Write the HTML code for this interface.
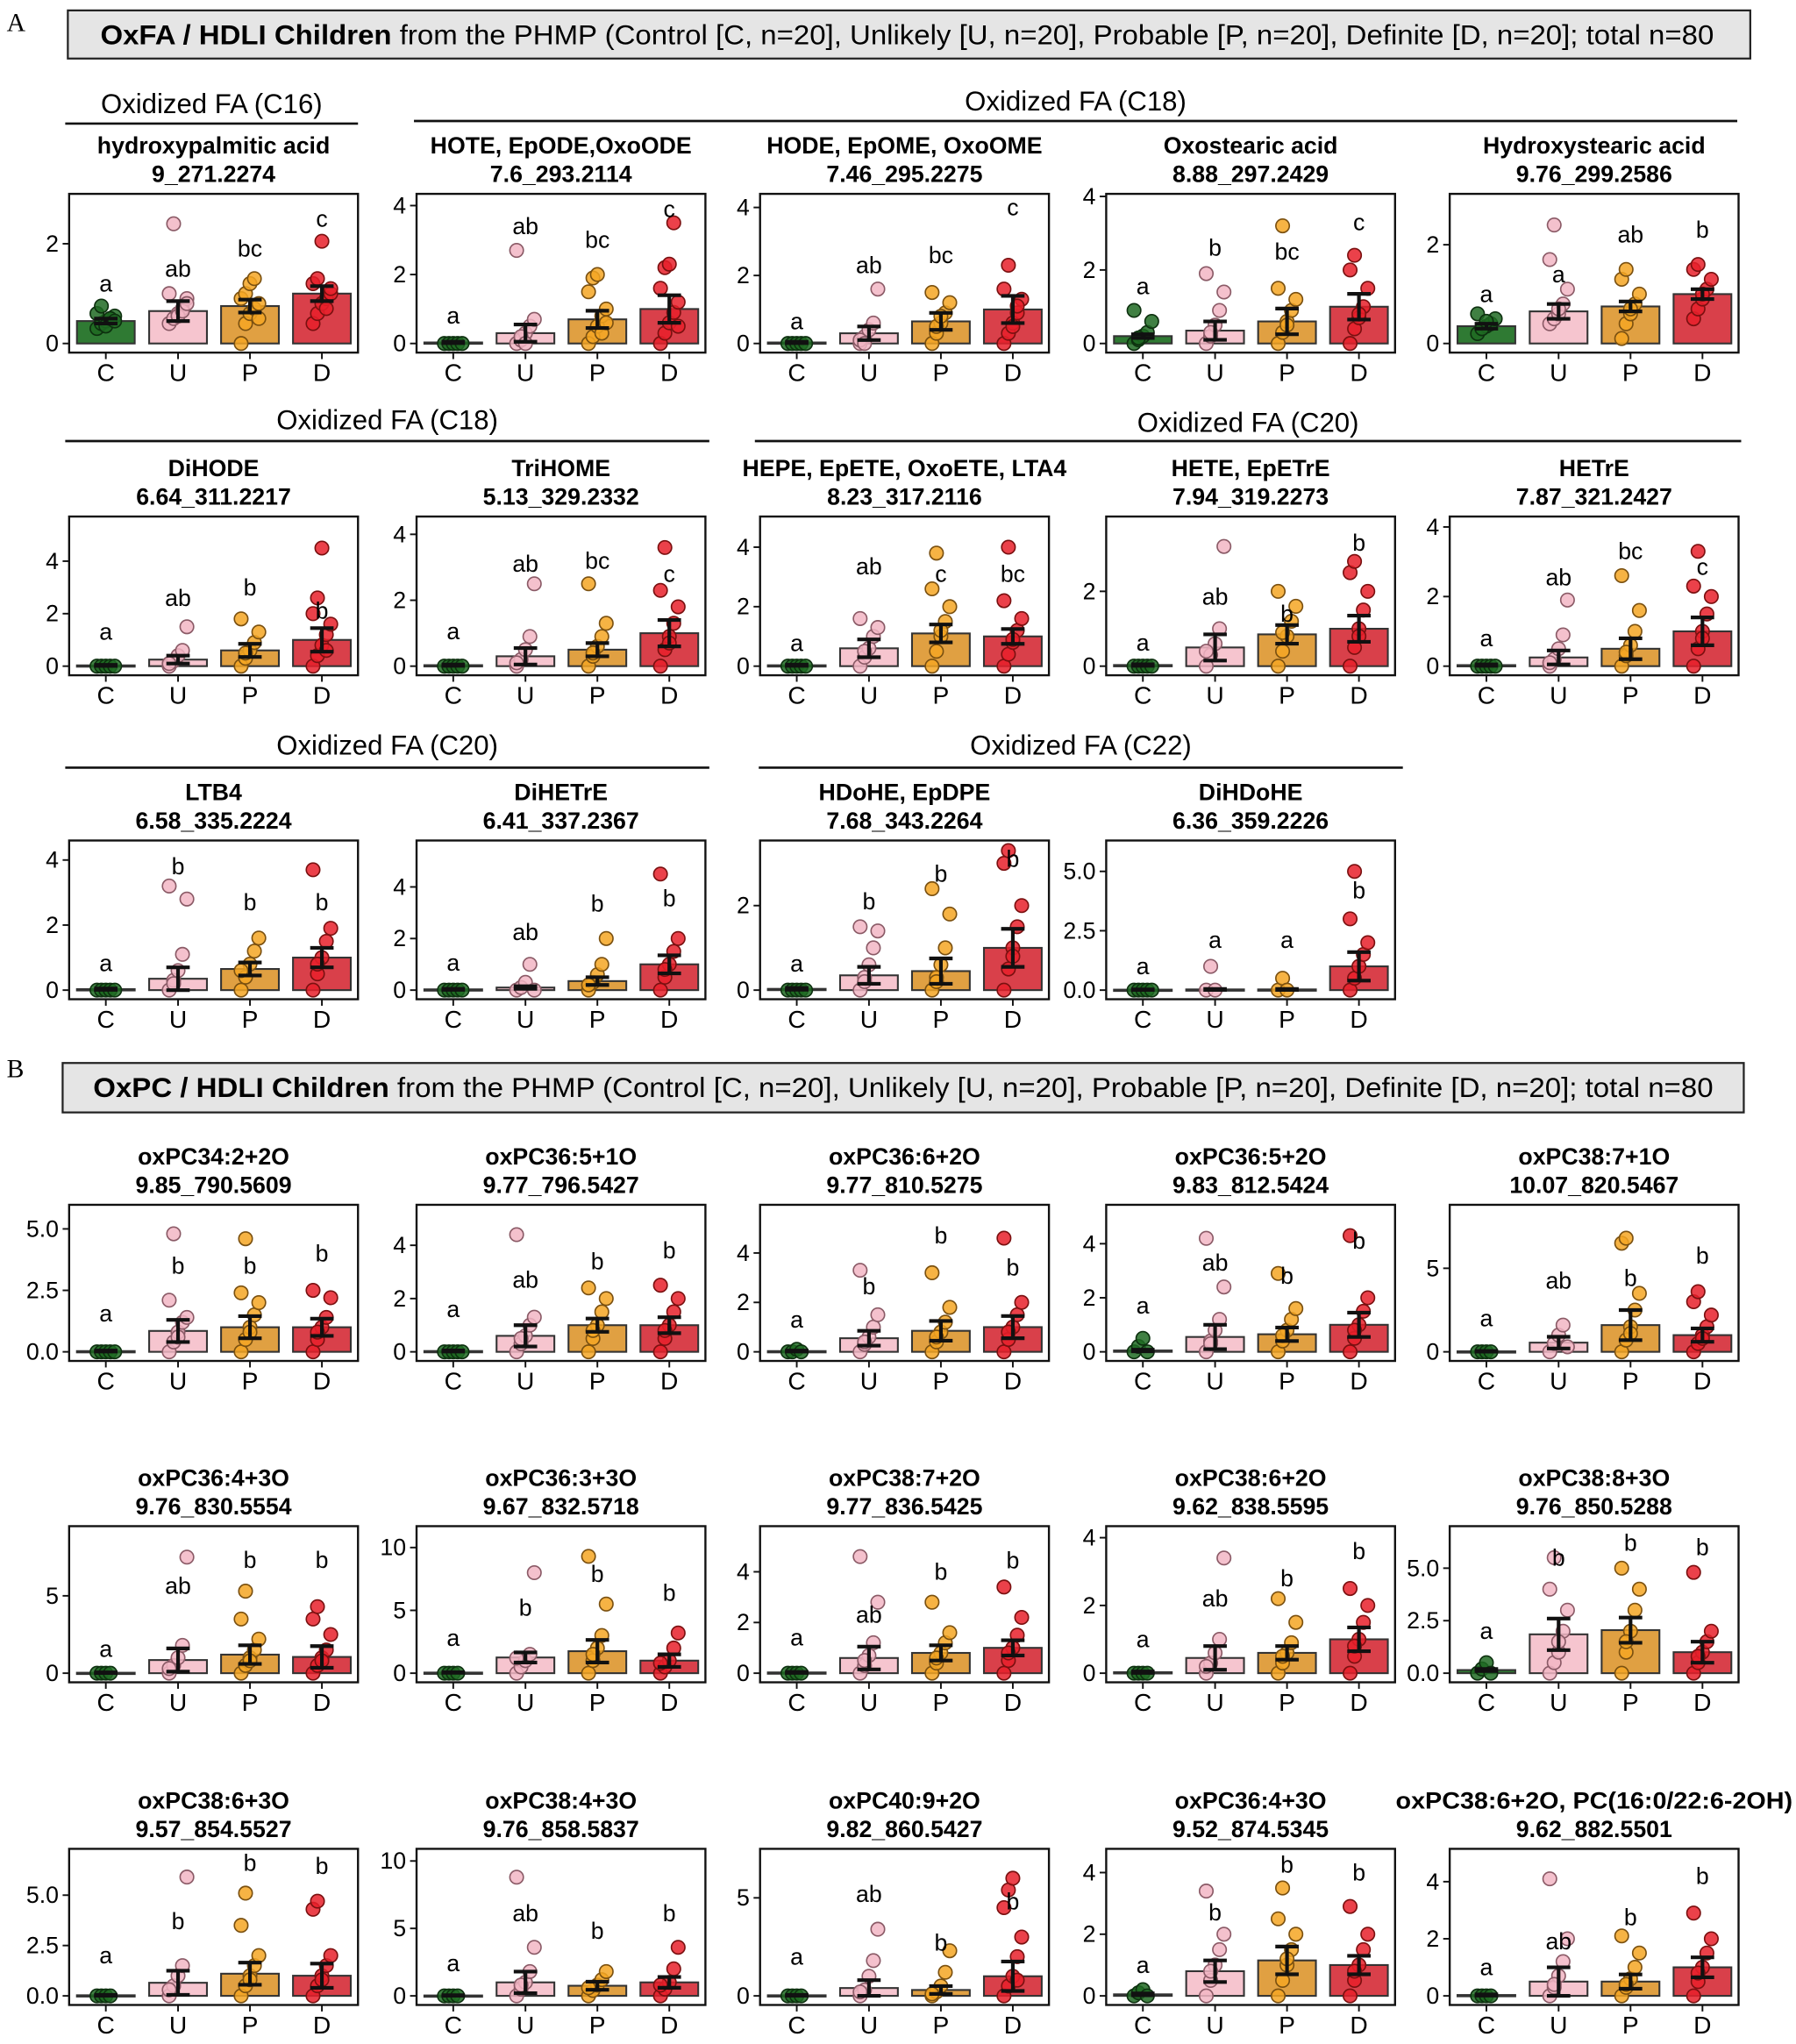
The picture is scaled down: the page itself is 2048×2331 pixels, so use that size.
<!DOCTYPE html>
<html><head><meta charset="utf-8">
<style>
html,body{margin:0;padding:0;background:#fff;}
svg{display:block;font-family:"Liberation Sans",Arial,sans-serif;}
</style></head>
<body>
<svg id="fig" xmlns="http://www.w3.org/2000/svg" width="2048" height="2331" viewBox="0 0 1380 1571">
<rect x="0" y="0" width="1380" height="1571" fill="#fff"/>
<text x="5" y="24" font-family="Liberation Serif" font-size="20">A</text>
<rect x="52" y="8" width="1293" height="37" fill="#e5e5e5" stroke="#222" stroke-width="1.5"/>
<text x="697" y="34" text-anchor="middle" font-size="21" textLength="1240" lengthAdjust="spacingAndGlyphs"><tspan font-weight="bold">OxFA / HDLI Children</tspan> from the PHMP (Control [C, n=20], Unlikely [U, n=20], Probable [P, n=20], Definite [D, n=20]; total n=80</text>
<text x="5" y="828" font-family="Liberation Serif" font-size="20">B</text>
<rect x="48" y="817" width="1292" height="38" fill="#e5e5e5" stroke="#222" stroke-width="1.5"/>
<text x="694" y="843" text-anchor="middle" font-size="21" textLength="1245" lengthAdjust="spacingAndGlyphs"><tspan font-weight="bold">OxPC / HDLI Children</tspan> from the PHMP (Control [C, n=20], Unlikely [U, n=20], Probable [P, n=20], Definite [D, n=20]; total n=80</text>
<g id="groups"></g>
<g id="plots"></g>
</svg>
<script>
// ---- data ----
const categories = ["C","U","P","D"];
const titles1 = ["hydroxypalmitic acid","HOTE, EpODE,OxoODE","HODE, EpOME, OxoOME","Oxostearic acid","Hydroxystearic acid",
"DiHODE","TriHOME","HEPE, EpETE, OxoETE, LTA4","HETE, EpETrE","HETrE",
"LTB4","DiHETrE","HDoHE, EpDPE","DiHDoHE",
"oxPC34:2+2O","oxPC36:5+1O","oxPC36:6+2O","oxPC36:5+2O","oxPC38:7+1O",
"oxPC36:4+3O","oxPC36:3+3O","oxPC38:7+2O","oxPC38:6+2O","oxPC38:8+3O",
"oxPC38:6+3O","oxPC38:4+3O","oxPC40:9+2O","oxPC36:4+3O","oxPC38:6+2O, PC(16:0/22:6-2OH)"];
const titles2 = ["9_271.2274","7.6_293.2114","7.46_295.2275","8.88_297.2429","9.76_299.2586",
"6.64_311.2217","5.13_329.2332","8.23_317.2116","7.94_319.2273","7.87_321.2427",
"6.58_335.2224","6.41_337.2367","7.68_343.2264","6.36_359.2226",
"9.85_790.5609","9.77_796.5427","9.77_810.5275","9.83_812.5424","10.07_820.5467",
"9.76_830.5554","9.67_832.5718","9.77_836.5425","9.62_838.5595","9.76_850.5288",
"9.57_854.5527","9.76_858.5837","9.82_860.5427","9.52_874.5345","9.62_882.5501"];
const tickLabels = [["0","2"],["0","2","4"],["0","2","4"],["0","2","4"],["0","2"],
["0","2","4"],["0","2","4"],["0","2","4"],["0","2"],["0","2","4"],
["0","2","4"],["0","2","4"],["0","2"],["0.0","2.5","5.0"],
["0.0","2.5","5.0"],["0","2","4"],["0","2","4"],["0","2","4"],["0","5"],
["0","5"],["0","5","10"],["0","2","4"],["0","2","4"],["0.0","2.5","5.0"],
["0.0","2.5","5.0"],["0","5","10"],["0","5"],["0","2","4"],["0","2","4"]];
const yMax = [3.0,4.34,4.4,4.07,3.03, 5.7,4.54,5.03,4.0,4.3, 4.6,5.8,3.54,6.3,
5.98,5.52,5.95,5.44,8.8, 9.5,11.7,5.8,4.34,7.0, 7.3,10.9,7.5,4.77,5.15];
const barMeans = [[.45,.65,.75,1],[.03,.3,.7,1],[.03,.3,.65,1],[.2,.35,.6,1],[.35,.65,.75,1],
[.03,.25,.6,1],[.03,.3,.5,1],[.03,.6,1.1,1],[.03,.5,.85,1],[.03,.25,.5,1],
[.03,.35,.65,1],[.03,.1,.35,1],[.03,.35,.45,1],[.02,.03,.03,1],
[.03,.85,1,1],[.03,.6,1,1],[.03,.55,.85,1],[.05,.55,.65,1],[.03,.55,1.6,1],
[.03,.85,1.2,1.05],[.05,1.25,1.75,1],[.03,.6,.8,1],[.03,.45,.6,1],[.15,1.85,2.05,1],
[.03,.65,1.1,1],[.03,1,.75,1],[.03,.4,.3,1],[.05,.8,1.15,1],[.03,.5,.5,1]];
const errs = [[.05,.2,.13,.15],[.02,.25,.25,.4],[.02,.2,.25,.4],[.05,.25,.35,.35],[.05,.15,.1,.1],
[.02,.15,.25,.45],[.02,.25,.2,.4],[.02,.3,.3,.25],[.02,.35,.25,.35],[.02,.2,.3,.4],
[.02,.35,.2,.3],[.02,.05,.15,.35],[.02,.2,.3,.45],[.01,.02,.02,.6],
[.02,.45,.45,.35],[.02,.4,.25,.3],[.02,.3,.4,.45],[.03,.45,.25,.45],[.02,.35,.9,.4],
[.02,.75,.6,.7],[.02,.4,.9,.5],[.02,.45,.3,.3],[.02,.35,.2,.35],[.05,.75,.6,.5],
[.02,.6,.55,.6],[.02,.8,.3,.4],[.02,.4,.2,.75],[.03,.35,.45,.3],[.02,.5,.25,.35]];
const letters = [["a","ab","bc","c"],["a","ab","bc","c"],["a","ab","bc","c"],["a","b","bc","c"],["a","a","ab","b"],
["a","ab","b","b"],["a","ab","bc","c"],["a","ab","c","bc"],["a","ab","b","b"],["a","ab","bc","c"],
["a","b","b","b"],["a","ab","b","b"],["a","b","b","b"],["a","a","a","b"],
["a","b","b","b"],["a","ab","b","b"],["a","b","b","b"],["a","ab","b","b"],["a","ab","b","b"],
["a","ab","b","b"],["a","b","b","b"],["a","ab","b","b"],["a","ab","b","b"],["a","b","b","b"],
["a","b","b","b"],["a","ab","b","b"],["a","ab","b","b"],["a","b","b","b"],["a","ab","b","b"]];
const letterY = [[1.2,1.5,1.9,2.5],[.8,3.4,3.0,3.9],[.65,2.3,2.6,4.0],[1.55,2.6,2.5,3.3],[1.0,1.4,2.2,2.3],
[1.3,2.6,3.0,2.1],[1.05,3.1,3.2,2.8],[.77,3.35,3.1,3.1],[.62,1.85,1.4,3.3],[.8,2.55,3.3,2.85],
[.83,3.8,2.7,2.7],[1.05,2.25,3.35,3.55],[.62,2.1,2.75,3.1],[1.0,2.1,2.1,4.2],
[1.55,3.5,3.5,4.0],[1.6,2.7,3.4,3.8],[1.3,2.65,4.7,3.4],[1.7,3.3,2.8,4.1],[2.0,4.25,4.4,5.75],
[1.55,5.65,7.3,7.3],[2.8,5.2,7.9,6.4],[1.4,2.3,4.0,4.45],[1.0,2.2,2.8,3.6],[2.0,5.5,6.2,6.0],
[2.0,3.7,6.6,6.45],[2.4,6.1,4.8,6.1],[2.0,5.2,2.7,4.8],[1.0,2.7,4.25,4.0],[1.0,1.9,2.75,4.2]];
const points = [
[[.3,.4,.45,.5,.55,.6,.75,.35,.5,.45],[.4,.5,.6,.7,.9,1,2.4,.55,.65,.8],[0,.4,.6,.7,.8,.9,1,1.2,1.3,.5],[.4,.6,.8,.9,1,1.2,1.3,2.05,.7,1.1]],
[[0,0,0,0,0],[0,.1,.3,.5,.7,2.7,.2,0],[0,.2,.5,.8,1,1.5,1.9,2,.3,.6],[0,.3,.6,.9,1.2,1.6,2.2,2.3,3.5,.5]],
[[0,0,0,0,0],[0,.2,.4,.6,1.6,.1,0],[0,.3,.6,.9,1.2,1.5,.5,.8],[0,.3,.6,.9,1.3,1.6,2.3,.5,1.1]],
[[0,.1,.2,.3,.6,.9,.15],[0,.2,.5,.9,1.4,1.9,.3],[0,.3,.6,.9,1.2,1.5,3.2,.5],[0,.4,.7,1,1.5,2,2.4,.8]],
[[.2,.3,.35,.4,.5,.6,.3,.45],[.4,.5,.6,.8,1.1,1.7,2.4,.7],[.1,.4,.6,.8,1,1.3,1.5,.7],[.5,.7,.9,1.1,1.3,1.5,1.6,1.0]],
[[0,0,0,0,0],[0,.2,.4,.6,1.5,.1],[0,.3,.6,.9,1.3,1.8,.5],[0,.4,.8,1.2,1.6,2,2.6,4.5,.6]],
[[0,0,0,0,0],[0,.2,.5,.9,2.5,.1],[0,.3,.6,.9,1.3,2.5,.4],[0,.5,.9,1.3,1.8,2.3,3.6,.7]],
[[0,0,0,0,0],[0,.3,.6,1,1.3,1.6,.5],[0,.5,1,1.5,2,2.6,3.8,1.2],[0,.4,.8,1.2,1.6,2.2,4,.9]],
[[0,0,0,0,0],[0,.3,.6,1,3.2,.4],[0,.4,.8,1.2,1.6,2,.9],[0,.5,1,1.5,2,2.5,2.8,.8]],
[[0,0,0,0,0],[0,.2,.5,.9,1.9,.1],[0,.3,.6,1,1.6,2.6,.4],[0,.5,1,1.5,2,2.3,3.3,.8]],
[[0,0,0,0,0],[0,.3,.6,1.1,2.8,3.2,.2],[0,.4,.8,1.2,1.6,.6],[0,.5,1,1.5,1.9,3.7,.8]],
[[0,0,0,0,0],[0,.1,.3,1,0],[0,.3,.6,1,2,.2],[0,.5,1,1.5,2,4.5,.8]],
[[0,0,0,0,0],[0,.3,.6,1,1.4,1.5,.2],[0,.3,.6,1,1.8,2.4,.2],[0,.5,1,1.5,2,3,3.3,.8]],
[[0,0,0,0,0],[0,1,0],[0,.5,0],[0,.5,1,1.5,2,3,5]],
[[0,0,0,0,0],[0,.4,.8,1.2,1.4,2.1,4.8,.6],[0,.5,1,1.5,2,2.4,4.6,.8],[0,.5,1,1.4,2.2,2.5,.8]],
[[0,0,0,0,0],[0,.3,.6,1,1.3,4.4,.5],[0,.5,1,1.5,2,2.4,.8],[0,.5,1,1.5,2,2.5,.8]],
[[0,0,.1,0],[0,.3,.6,1,1.5,3.3,.4],[0,.4,.8,1.2,1.8,3.2,.6],[0,.5,1,1.5,2,4.6,.8]],
[[0,.2,.5,0],[0,.4,.8,1.2,2.4,4.2,.3],[0,.4,.8,1.2,1.6,2.9,.6],[0,.5,1,1.5,2,4.3,.8]],
[[0,0,0,0],[0,.5,1,1.6,.3],[0,.7,1.5,2.5,3.5,6.5,6.8,1.1],[0,.5,1,1.5,2.2,3,3.6,.8]],
[[0,0,0,0],[0,.5,1,1.8,7.5,.3],[0,.5,1,1.5,2.2,3.5,5.3,.8],[0,.5,1,1.5,2.5,3.5,4.3,.8]],
[[0,0,0,0],[0,.5,1,1.5,8,1.2],[0,1,2,3,5.5,9.3,1.5],[0,.5,1,2,3.2,.8]],
[[0,0,0,0],[0,.3,.7,1.2,2.8,4.6,.5],[0,.4,.8,1.2,1.6,2.8,.6],[0,.5,1,1.5,2.2,3.4,.8]],
[[0,0,0,0],[0,.3,.6,1,3.4,.2],[0,.3,.6,.9,1.5,2.2,.5],[0,.5,1,1.5,2,2.5,.8]],
[[0,.2,.5,0],[0,.5,1,2,3,4,5.5,1.5],[0,1,2,3,4,5,1.5],[0,.5,1,1.5,2,4.8,.8]],
[[0,0,0,0],[0,.5,1,1.5,5.9,.3],[0,.5,1,1.5,2,3.5,5.1,.8],[0,.5,1,1.5,2,4.3,4.7,.8]],
[[0,0,0,0],[0,.5,1,1.8,3.6,8.8,.8],[0,.4,.8,1.2,1.8,.6],[0,.5,1,2,3.6,.8]],
[[0,0,0,0],[0,.3,1,1.8,3.4,.2],[0,.2,.5,1.2,2.3,.1],[0,.5,1,2,3,4.5,5.4,6,.8]],
[[0,.1,.2,0],[0,.5,1,1.5,2,3.4,.8],[0,.5,1,1.5,2,2.5,3.5,1.2],[0,.5,1,1.5,2,2.9,.8]],
[[0,0,0,0],[0,.3,.7,1.2,2,4.1,.4],[0,.3,.6,1,1.5,2.1,.4],[0,.5,1,1.5,2,2.9,.8]]];
const groupHeaders = ["Oxidized FA (C16)","Oxidized FA (C18)","Oxidized FA (C18)","Oxidized FA (C20)","Oxidized FA (C20)","Oxidized FA (C22)"];

// ---- layout (not data) ----
const NS="http://www.w3.org/2000/svg";
const colX=[53,320,584,850,1114], boxW=222;
const slots=[];
[149,397,646].forEach((y,r)=>{const n=r<2?5:4;for(let c=0;c<n;c++)slots.push({x:colX[c],y:y,h:122});});
[926,1173,1421].forEach(y=>{for(let c=0;c<5;c++)slots.push({x:colX[c],y:y,h:120});});
const hdrGeom=[[50,275,80,95],[318,1335,78,93],[50,545,323,339],[580,1338,325,339],[50,545,573,590],[583,1078,573,590]];
const barFill=["#2f7a33","#f6c5cf","#e0a042","#d9404a"];
const ptFill=["#1f6a22","#f2b6c4","#f5a623","#e8202a"];
const ptStroke=["#0d300f","#8a5a66","#7a5010","#7a1010"];
const catFrac=[0.127,0.377,0.626,0.875];

function mk(tag,attrs,parent){const e=document.createElementNS(NS,tag);for(const k in attrs)e.setAttribute(k,attrs[k]);parent.appendChild(e);return e;}

const gG=document.getElementById('groups');
groupHeaders.forEach((t,i)=>{
  const [x1,x2,ty,ly]=hdrGeom[i];
  const tx=mk('text',{x:(x1+x2)/2,y:ty+7,'text-anchor':'middle','font-size':21},gG);
  tx.textContent=t;
  
  
  const ln=mk('line',{x1:x1,x2:x2,y1:ly,y2:ly,stroke:'#111','stroke-width':1.8},gG);
  
  
});

const gP=document.getElementById('plots');
titles1.forEach((t1,p)=>{
  const s=slots[p];
  const g=mk('g',{},gP);
  
  
  const bottom=s.y+s.h, zeroY=bottom-7, ppu=(s.h-7)/yMax[p];
  const yS=v=>zeroY-v*ppu;
  const xS=i=>s.x+catFrac[i]*boxW;
  const cx=s.x+boxW/2;
  const a=mk('text',{x:cx,y:s.y-31,'text-anchor':'middle','font-size':18,'font-weight':'bold'},g);
  a.textContent=t1;
  
  
  if(t1.length>26){a.setAttribute('textLength',305);a.setAttribute('lengthAdjust','spacingAndGlyphs');}
  const b=mk('text',{x:cx,y:s.y-9,'text-anchor':'middle','font-size':18,'font-weight':'bold'},g);
  b.textContent=titles2[p];
  
  
  tickLabels[p].forEach(tl=>{
    const v=parseFloat(tl), y=yS(v);
    const tk=mk('line',{x1:s.x-5,x2:s.x,y1:y,y2:y,stroke:'#111','stroke-width':1.3},g);
    
    
    const tt=mk('text',{x:s.x-8,y:y+6,'text-anchor':'end','font-size':18},g);
    tt.textContent=tl;
    
    
  });
  categories.forEach((c,i)=>{
    const x=xS(i), bw=0.2*boxW, m=barMeans[p][i];
    const bar=mk('rect',{x:x-bw/2,y:yS(m),width:bw,height:Math.max(zeroY-yS(m),1),fill:barFill[i],stroke:'#333','stroke-width':1.4},g);
    
    
    points[p][i].forEach((v,k)=>{
      const dx=((k%5)-2)*3.4;
      const pt=mk('circle',{cx:x+dx,cy:yS(v),r:5.2,fill:ptFill[i],stroke:ptStroke[i],'stroke-width':1.1,'fill-opacity':0.85},g);
      
      
    });
    const e=errs[p][i], y1=yS(m+e), y2=yS(Math.max(m-e,0)), cw=9;
    const eb=mk('path',{d:`M${x},${y1}V${y2}M${x-cw},${y1}H${x+cw}M${x-cw},${y2}H${x+cw}`,stroke:'#111','stroke-width':2.8,fill:'none'},g);
    
    
    const lt=mk('text',{x:x,y:yS(letterY[p][i])+6,'text-anchor':'middle','font-size':18},g);
    lt.textContent=letters[p][i];
    
    
    const xt=mk('line',{x1:x,x2:x,y1:bottom,y2:bottom+5,stroke:'#111','stroke-width':1.3},g);
    
    
    const xl=mk('text',{x:x,y:bottom+22,'text-anchor':'middle','font-size':19},g);
    xl.textContent=c;
    
    
  });
  const fr=mk('rect',{x:s.x,y:s.y,width:boxW,height:s.h,fill:'none',stroke:'#111','stroke-width':1.6},g);
  
  
});
</script>
</body></html>
